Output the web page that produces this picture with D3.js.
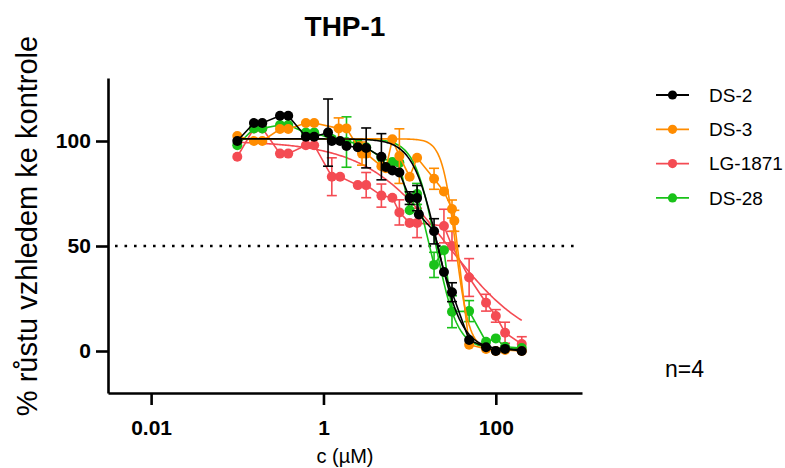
<!DOCTYPE html>
<html>
<head>
<meta charset="utf-8">
<script src="https://cdn.jsdelivr.net/npm/d3@7"></script>
<style>
  body { margin: 0; background: #fff; }
  svg { font-family: "Liberation Sans", Arial, sans-serif; }
</style>
</head>
<body>
<div id="chart"></div>
<script>
// concentrations in uM
let concDS2 = [0.1, 0.156, 0.195, 0.313, 0.39, 0.625, 0.78, 1.13, 1.25, 1.56, 1.85, 2.5, 3.13, 4.7, 5.3, 6.3, 7.6, 10, 12.2, 12.8, 19.2, 25, 31, 49, 77, 100, 128, 200],
  valDS2 = [100, 108.6, 108.6, 112, 112, 102, 102, 104, 100, 100, 97.6, 97, 96.7, 92.5, 87.6, 86, 85, 72.8, 72.8, 65, 57, 37.6, 28, 5.2, 1.8, 0, 1, 0],
  errDS2 = [1, 1, 1, 1, 1, 2, 2, 16, 2, 2, 2, 2, 9.5, 11, 2, 2, 2, 3, 6, 2, 6, 2, 4.5, 1.5, 1, 1, 1, 1];

let concDS3 = [0.1, 0.156, 0.195, 0.313, 0.39, 0.625, 0.78, 1.5, 1.85, 2.8, 3.13, 4.7, 5.3, 6.3, 7.6, 10, 12.2, 19.2, 25, 31, 33, 49, 77, 100, 128, 200],
  valDS3 = [102.4, 100, 100, 105.7, 105.7, 108.6, 108.6, 106, 106, 94, 94, 88, 87, 100.8, 92.8, 83, 92, 82, 76, 67.6, 62, 3, 1, 0, 0.5, 0],
  errDS3 = [1, 1, 1, 1, 1, 1, 1, 5, 2, 5.5, 2, 2, 2, 2, 13, 2, 2, 5, 2, 4.3, 5, 1, 1, 1, 1, 1];

let concLG = [0.1, 0.156, 0.195, 0.313, 0.39, 0.625, 0.78, 1.25, 1.56, 2.5, 3.13, 4.7, 6.3, 7.6, 10, 12.2, 25, 31, 49, 77, 100, 128, 200],
  valLG = [92.5, 106, 106, 94, 94, 98, 98, 83, 83, 79, 79, 74, 73, 66, 61, 61, 59.5, 50, 35, 23, 16.7, 8.7, 3.3],
  errLG = [2, 2, 2, 2, 2, 2, 2, 9, 2, 2, 6, 5.5, 2, 6, 2, 7, 8, 7, 9, 4, 3, 5, 3.5];

let concDS28 = [0.1, 0.156, 0.195, 0.313, 0.39, 0.625, 0.78, 1.25, 1.85, 2.5, 3.13, 4.7, 6.3, 7.6, 10, 12.2, 19.2, 25, 31, 49, 77, 100, 128, 200],
  valDS28 = [98, 106, 106, 107.6, 107.6, 104, 104, 101, 99.5, 99, 97, 92, 90, 89.7, 67, 74.8, 41, 48, 18.7, 19, 4.4, 6, 2, 1.4],
  errDS28 = [1, 1, 1, 1, 1, 2, 2, 2, 12, 2, 2, 2, 2, 2, 2, 5, 6, 2, 7.6, 5, 1, 1, 1, 1];

let seriesNames = ['DS-2', 'DS-3', 'LG-1871', 'DS-28'],
  seriesColors = ['#000000', '#ff8c00', '#f44b53', '#19c219'];

// 4PL fit: top, bottom, IC50, hill
let fitDS2 = [101, 0.5, 21, 3],
  fitDS3 = [101, 0.5, 34, 5.5],
  fitLG = [100, 0, 28, 0.9],
  fitDS28 = [101, 1, 20, 3.5];

let xTicks = [0.01, 1, 100],
  yTicks = [0, 50, 100];

let series = [
  {name: 'DS-2', conc: concDS2, val: valDS2, err: errDS2, fit: fitDS2},
  {name: 'DS-3', conc: concDS3, val: valDS3, err: errDS3, fit: fitDS3},
  {name: 'LG-1871', conc: concLG, val: valLG, err: errLG, fit: fitLG},
  {name: 'DS-28', conc: concDS28, val: valDS28, err: errDS28, fit: fitDS28}
];
series.forEach((s, i) => { s.color = seriesColors[i]; });

let width = 785, height = 468;
let svg = d3.select('#chart').append('svg')
  .attr('width', width)
  .attr('height', height);

let x = d3.scaleLog().domain([0.00316, 1000]).range([108, 582]),
  y = d3.scaleLinear().domain([-20, 130]).range([393, 78]);

// 50% reference line
svg.append('line')
  .attr('x1', 115).attr('x2', 576)
  .attr('y1', y(50)).attr('y2', y(50))
  .attr('stroke', '#000')
  .attr('stroke-width', 2.6)
  .attr('stroke-dasharray', '2.6,6.9');

let drawOrder = [2, 3, 1, 0];
let line = d3.line().x((d) => x(d[0])).y((d) => y(d[1]));

drawOrder.forEach((i) => {
  let s = series[i],
    pts = s.conc.map((c, j) => [c, s.val[j], s.err[j]]),
    g = svg.append('g');

  // fitted curve
  let [top, bottom, ic50, hill] = s.fit,
    lo = Math.log10(s.conc[0]), hi = Math.log10(s.conc[s.conc.length - 1]),
    curve = d3.range(0, 201).map((k) => {
      let c = Math.pow(10, lo + (hi - lo) * k / 200);
      return [c, bottom + (top - bottom) / (1 + Math.pow(c / ic50, hill))];
    });
  g.append('path')
    .attr('d', line(curve))
    .attr('fill', 'none')
    .attr('stroke', s.color)
    .attr('stroke-width', 1.6);

  // connecting line
  g.append('path')
    .attr('d', line(pts))
    .attr('fill', 'none')
    .attr('stroke', s.color)
    .attr('stroke-width', 1.6);

  // error bars
  let eb = g.selectAll('.eb').data(pts.filter((d) => d[2] > 2.5)).enter().append('g');
  eb.append('line')
    .attr('x1', (d) => x(d[0])).attr('x2', (d) => x(d[0]))
    .attr('y1', (d) => y(d[1] - d[2])).attr('y2', (d) => y(d[1] + d[2]))
    .attr('stroke', s.color).attr('stroke-width', 1.6);
  [1, -1].forEach((sg) => {
    eb.append('line')
      .attr('x1', (d) => x(d[0]) - 5).attr('x2', (d) => x(d[0]) + 5)
      .attr('y1', (d) => y(d[1] + sg * d[2])).attr('y2', (d) => y(d[1] + sg * d[2]))
      .attr('stroke', s.color).attr('stroke-width', 1.6);
  });

  g.selectAll('circle').data(pts).enter().append('circle')
    .attr('cx', (d) => x(d[0]))
    .attr('cy', (d) => y(d[1]))
    .attr('r', 5)
    .attr('fill', s.color);
});

// axes
let xAxis = d3.axisBottom(x).tickValues(xTicks).tickFormat((d) => d).tickSize(12).tickSizeOuter(0),
  yAxis = d3.axisLeft(y).tickValues(yTicks).tickSize(12).tickSizeOuter(0);

let gx = svg.append('g')
  .attr('transform', 'translate(0,' + 393 + ')')
  .call(xAxis);
let gy = svg.append('g')
  .attr('transform', 'translate(' + 108 + ',0)')
  .call(yAxis);

[gx, gy].forEach((g) => {
  g.select('.domain').attr('stroke-width', 2.6);
  g.selectAll('.tick line').attr('stroke-width', 2.6);
  g.selectAll('.tick text')
    .attr('font-family', '"Liberation Sans", Arial, sans-serif')
    .attr('font-size', 21)
    .attr('font-weight', 'bold')
    .attr('fill', '#000');
});
gx.selectAll('.tick text').attr('dy', '1.3em');
gy.selectAll('.tick text').attr('dx', '-0.1em');

// titles
svg.append('text')
  .attr('x', 345).attr('y', 36)
  .attr('text-anchor', 'middle')
  .attr('font-size', 28)
  .attr('font-weight', 'bold')
  .text('THP-1');

svg.append('text')
  .attr('transform', 'translate(37,226) rotate(-90)')
  .attr('text-anchor', 'middle')
  .attr('font-size', 29)
  .text('% růstu vzhledem ke kontrole');

svg.append('text')
  .attr('x', 345).attr('y', 463)
  .attr('text-anchor', 'middle')
  .attr('font-size', 20)
  .text('c (µM)');

svg.append('text')
  .attr('x', 665).attr('y', 377)
  .attr('font-size', 23)
  .text('n=4');

// legend
let legend = svg.append('g').attr('transform', 'translate(656,95)');
let li = legend.selectAll('g').data(series).enter().append('g')
  .attr('transform', (d, i) => 'translate(0,' + (i * 34.3) + ')');
li.append('line')
  .attr('x1', 0).attr('x2', 33)
  .attr('stroke', (d) => d.color)
  .attr('stroke-width', 1.8);
li.append('circle')
  .attr('cx', 16.5)
  .attr('r', 4.6)
  .attr('fill', (d) => d.color);
li.append('text')
  .attr('x', 53)
  .attr('dy', '0.36em')
  .attr('font-size', 19)
  .text((d) => d.name);
</script>
</body>
</html>
